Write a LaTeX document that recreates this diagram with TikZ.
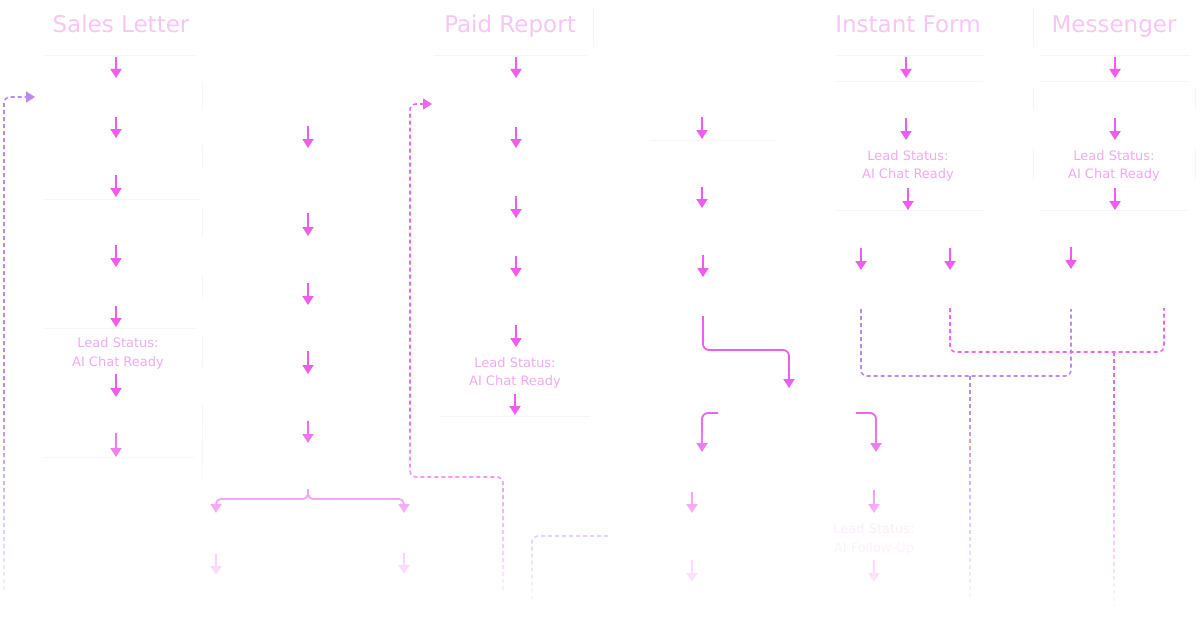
\documentclass[tikz,border=0pt]{standalone}
\usepackage{fontspec}
\setmainfont{DejaVu Sans}
\usetikzlibrary{arrows.meta,fadings}
\definecolor{arr}{HTML}{EF5CEF}
\definecolor{ttl}{HTML}{F7C6F4}
\definecolor{lead}{HTML}{F2AAEF}
\definecolor{pur}{HTML}{B98BEE}
\definecolor{pdash}{HTML}{EE66EC}
\definecolor{faint}{HTML}{F5F5F5}
\tikzfading[name=fadeout, top color=transparent!100, bottom color=transparent!0]
\tikzset{
  flow/.style={draw=arr, line width=1.8pt, -{Triangle[width=11pt,length=9pt]}},
  elbow/.style={flow, rounded corners=6pt},
  titletext/.style={text=ttl, font=\fontsize{23}{26}\selectfont, inner sep=0pt, anchor=base},
  leadtext/.style={text=lead, font=\fontsize{13}{19}\selectfont, inner sep=0pt, anchor=base},
  gridline/.style={draw=faint, line width=0.8pt},
  pkdash/.style={draw=pdash, line width=1.6pt, dash pattern=on 4pt off 3pt, rounded corners=6pt},
  pudash/.style={draw=pur, line width=1.6pt, dash pattern=on 4pt off 3pt, rounded corners=6pt},
}
\newcommand\vflow[4]{%
  \coordinate (#1a) at (#2,#3);
  \coordinate (#1b) at (#2,#4);
  \draw[flow] (#1a) -- (#1b);}
\begin{document}
\begin{tikzpicture}[x=1pt,y=-1pt]
\useasboundingbox (0,0) rectangle (1200,618);
\fill[white] (0,0) rectangle (1200,618);

% faint box edges
\foreach \xa/\ya/\xb/\yb in {43/55/197/55, 202/82/202/110, 43/199/200/199, 202/145/202/168,
  202/207/202/237, 202/275/202/298, 43/328/197/328, 202/335/202/367, 43/457/195/457,
  202/405/202/483, 434/55/587/55, 593/8/593/47, 440/416/590/416, 650/140/777/140,
  835/55/983/55, 835/81/983/81, 835/210/985/210, 1040/55/1190/55, 1040/81/1188/81,
  1040/210/1188/210, 1033/8/1033/47, 1033/88/1033/110, 1033/148/1033/180, 1195/88/1195/110,
  1195/148/1195/180}
  \draw[gridline] (\xa,\ya) -- (\xb,\yb);

% titles
\node[titletext] (t1) at (121,33) {Sales Letter};
\node[titletext] (t3) at (510,33) {Paid Report};
\node[titletext] (t5) at (908,33) {Instant Form};
\node[titletext] (t6) at (1114,33) {Messenger};

% lead status labels
\node[leadtext] (l1a) at (118,347) {Lead Status:};
\node[leadtext] (l1b) at (118,366) {AI Chat Ready};
\node[leadtext] (l3a) at (515,367) {Lead Status:};
\node[leadtext] (l3b) at (515,385) {AI Chat Ready};
\node[leadtext] (l5a) at (908,160) {Lead Status:};
\node[leadtext] (l5b) at (908,178) {AI Chat Ready};
\node[leadtext] (l6a) at (1114,160) {Lead Status:};
\node[leadtext] (l6b) at (1114,178) {AI Chat Ready};
\node[leadtext, text=lead!50!white] (l4a) at (874,533) {Lead Status:};
\node[leadtext, text=lead!50!white] (l4b) at (874,552) {AI Follow-Up};

% column 1
\vflow{c1a}{116}{57}{78}
\vflow{c1b}{116}{117}{138}
\vflow{c1c}{116}{175}{197}
\vflow{c1d}{116}{245}{267}
\vflow{c1e}{116}{306}{327}
\vflow{c1f}{116}{374}{397}
\vflow{c1g}{116}{433}{457}

% column 2
\vflow{c2a}{308}{126}{148}
\vflow{c2b}{308}{213}{236}
\vflow{c2c}{308}{283}{305}
\vflow{c2d}{308}{351}{374}
\vflow{c2e}{308}{421}{443}
\coordinate (br) at (308,489);
\coordinate (brl) at (216,513);
\coordinate (brr) at (404,513);
\draw[elbow, rounded corners=5pt] (br) -- (308,499) -| (brl);
\draw[elbow, rounded corners=5pt] (br) -- (308,499) -| (brr);
\vflow{c2f}{216}{554}{575}
\vflow{c2g}{404}{553}{574}

% column 3
\vflow{c3a}{516}{57}{78}
\vflow{c3b}{516}{127}{148}
\vflow{c3c}{516}{196}{218}
\vflow{c3d}{516}{256}{277}
\vflow{c3e}{516}{325}{347}
\vflow{c3f}{515}{394}{415}

% column 4
\vflow{c4a}{702}{117}{139}
\vflow{c4b}{702}{187}{208}
\vflow{c4c}{703}{255}{277}
\coordinate (e1s) at (703,316);
\coordinate (e1e) at (789,388);
\draw[elbow] (e1s) -- (703,350) -| (e1e);
\coordinate (e2s) at (718,413);
\coordinate (e2e) at (702,452);
\draw[elbow] (e2s) -| (e2e);
\coordinate (e3s) at (856,413);
\coordinate (e3e) at (876,452);
\draw[elbow] (e3s) -| (e3e);
\vflow{c4d}{692}{492}{513}
\vflow{c4e}{874}{490}{513}
\vflow{c4f}{692}{560}{582}
\vflow{c4g}{874}{560}{582}

% column 5
\vflow{c5a}{906}{57}{78}
\vflow{c5b}{906}{118}{140}
\vflow{c5c}{908}{188}{210}
\vflow{c5d}{861}{248}{270}
\vflow{c5e}{950}{248}{270}

% column 6
\vflow{c6a}{1115}{57}{78}
\vflow{c6b}{1115}{118}{140}
\vflow{c6c}{1115}{188}{210}
\vflow{c6d}{1071}{247}{269}

% dashed brackets on the right
\coordinate (pa) at (861,309);
\coordinate (pb) at (1071,309);
\coordinate (pc) at (970,376);
\coordinate (pd) at (970,600);
\draw[pudash] (pa) -- (861,376) -- (1071,376) -- (pb);
\draw[pudash] (pc) -- (pd);
\coordinate (ka) at (950,308);
\coordinate (kb) at (1164,308);
\coordinate (kc) at (1114,352);
\coordinate (kd) at (1114,613);
\draw[pkdash] (ka) -- (950,352) -- (1164,352) -- (kb);
\draw[pkdash] (kc) -- (kd);

% loop-back dashed lines
\coordinate (la) at (4,590);
\coordinate (lb) at (35,97);
\draw[pudash, -{Triangle[width=11pt,length=9pt]}] (la) |- (lb);
\coordinate (ma) at (503,590);
\coordinate (mb) at (432,104);
\draw[pkdash, -{Triangle[width=11pt,length=9pt]}] (ma) -- (503,477) -- (410,477) |- (mb);
\coordinate (na) at (608,536);
\coordinate (nb) at (532,600);
\draw[pudash] (na) -| (nb);

% fade toward the bottom
\fill[white, path fading=fadeout] (0,405) rectangle (1200,612);
\fill[white] (0,611) rectangle (1200,618);
\end{tikzpicture}
\end{document}
